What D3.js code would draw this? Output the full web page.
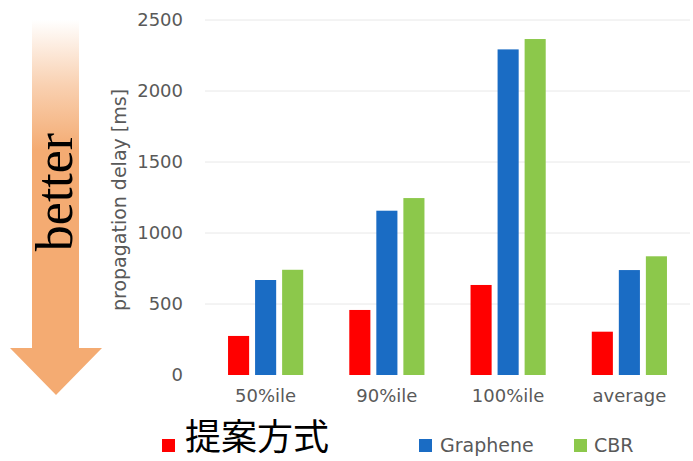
<!DOCTYPE html>
<html>
<head>
<meta charset="utf-8">
<script src="https://cdn.jsdelivr.net/npm/d3@7"></script>
<style>
  html, body { margin: 0; padding: 0; background: #ffffff; }
  svg { display: block; }
</style>
</head>
<body>
<svg id="chart" width="693" height="461"></svg>
<script>
// Propagation delay per percentile, three methods
const categories = ["50%ile", "90%ile", "100%ile", "average"];
const seriesNames = ["提案方式", "Graphene", "CBR"];
const proposedValues = [275, 458, 634, 305];
const grapheneValues = [669, 1157, 2293, 739];
const cbrValues = [741, 1246, 2366, 836];
const yTicks = [0, 500, 1000, 1500, 2000, 2500];
const colors = ["#ff0000", "#1a6cc4", "#8cc84b"];

const seriesValues = [proposedValues, grapheneValues, cbrValues];
const rows = categories.map((c, i) => ({
  category: c,
  values: seriesValues.map((vals, s) => ({ series: seriesNames[s], index: s, value: vals[i] }))
}));

const svg = d3.select("#chart");
const plotLeft = 205, plotRight = 690, plotTop = 20, plotBottom = 375;
const textGray = "#595959";
const fontSans = "'DejaVu Sans', sans-serif";

const x0 = d3.scaleBand().domain(categories).range([plotLeft, plotRight])
  .paddingInner(0.38).paddingOuter(0.19);
const x1 = d3.scaleBand().domain(d3.range(seriesNames.length))
  .range([0, x0.bandwidth()]).paddingInner(0.22);
const y = d3.scaleLinear().domain([0, 2500]).range([plotBottom, plotTop]);

// "better" arrow with a fade toward the top
const defs = svg.append("defs");
const grad = defs.append("linearGradient").attr("id", "arrowFade")
  .attr("gradientUnits", "userSpaceOnUse")
  .attr("x1", 0).attr("x2", 0).attr("y1", 20).attr("y2", 150);
grad.append("stop").attr("offset", 0).attr("stop-color", "#f4ab72").attr("stop-opacity", 0);
grad.append("stop").attr("offset", 0.5).attr("stop-color", "#f4ab72").attr("stop-opacity", 0.55);
grad.append("stop").attr("offset", 1).attr("stop-color", "#f4ab72").attr("stop-opacity", 1);

svg.append("path")
  .attr("d", "M32,20 L79,20 L79,348 L102,348 L56,395 L10,348 L32,348 Z")
  .attr("fill", "url(#arrowFade)");

svg.append("text")
  .attr("transform", "translate(72,192) rotate(-90)")
  .attr("text-anchor", "middle")
  .attr("font-family", "'Liberation Serif', 'DejaVu Serif', serif")
  .attr("font-size", 52)
  .attr("fill", "#000")
  .text("better");

// Gridlines
svg.append("g").selectAll("line")
  .data(yTicks.filter(t => t > 0))
  .join("line")
  .attr("x1", plotLeft).attr("x2", plotRight)
  .attr("y1", d => y(d)).attr("y2", d => y(d))
  .attr("stroke", "#e8e8e8").attr("stroke-width", 1);

// Y axis (labels only)
const yAxis = svg.append("g")
  .attr("transform", `translate(${plotLeft},0)`)
  .call(d3.axisLeft(y).tickValues(yTicks).tickFormat(d3.format("d")).tickSize(0).tickPadding(22));
yAxis.select(".domain").remove();
yAxis.selectAll("text")
  .attr("font-family", fontSans).attr("font-size", 18).attr("fill", textGray);

svg.append("text")
  .attr("transform", "translate(126,200) rotate(-90)")
  .attr("text-anchor", "middle")
  .attr("font-family", fontSans).attr("font-size", 19).attr("fill", textGray)
  .text("propagation delay [ms]");

// Bars
const groups = svg.append("g").selectAll("g")
  .data(rows).join("g")
  .attr("transform", d => `translate(${x0(d.category)},0)`);
groups.selectAll("rect")
  .data(d => d.values).join("rect")
  .attr("x", d => x1(d.index))
  .attr("width", x1.bandwidth())
  .attr("y", d => y(d.value))
  .attr("height", d => y(0) - y(d.value))
  .attr("fill", d => colors[d.index]);

// X axis labels
const xAxis = svg.append("g")
  .attr("transform", `translate(0,${plotBottom})`)
  .call(d3.axisBottom(x0).tickSize(0).tickPadding(14));
xAxis.select(".domain").remove();
xAxis.selectAll("text")
  .attr("font-family", fontSans).attr("font-size", 18).attr("fill", textGray);

// Legend
const legendItems = [
  { name: seriesNames[0], x: 162, size: 36, font: "'Noto Sans CJK JP', sans-serif", fill: "#000", baseline: 450, gap: 23 },
  { name: seriesNames[1], x: 419, size: 19, font: fontSans, fill: textGray, baseline: 452, gap: 21 },
  { name: seriesNames[2], x: 574, size: 19, font: fontSans, fill: textGray, baseline: 452, gap: 20 }
];
const legend = svg.append("g").selectAll("g").data(legendItems).join("g");
legend.append("rect")
  .attr("x", d => d.x).attr("y", 439)
  .attr("width", 13).attr("height", 13)
  .attr("fill", (d, i) => colors[i]);
legend.append("text")
  .attr("x", d => d.x + d.gap).attr("y", d => d.baseline)
  .attr("font-family", d => d.font).attr("font-size", d => d.size)
  .attr("fill", d => d.fill)
  .text(d => d.name);
</script>
</body>
</html>
